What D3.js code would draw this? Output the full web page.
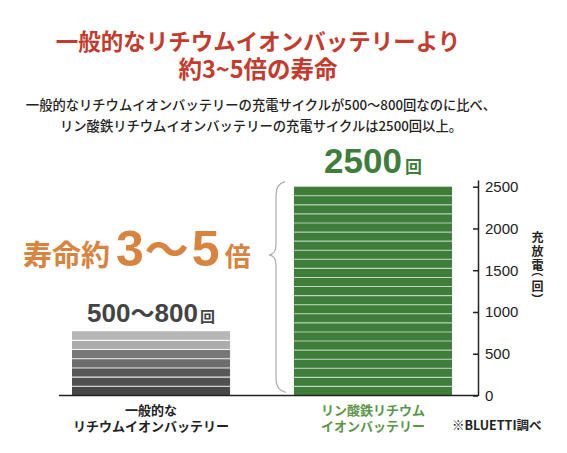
<!DOCTYPE html>
<html>
<head>
<meta charset="utf-8">
<script src="https://cdn.jsdelivr.net/npm/d3@7"></script>
<style>
  body { margin: 0; background: #fff; }
  svg { display: block; }
  text { font-family: "Noto Sans CJK JP", sans-serif; }
</style>
</head>
<body>
<svg id="chart" width="567" height="453"></svg>
<script>
// data
var categories = ["一般的なリチウムイオンバッテリー", "リン酸鉄リチウムイオンバッテリー"];
var catLines = [["一般的な", "リチウムイオンバッテリー"], ["リン酸鉄リチウム", "イオンバッテリー"]];
var cycles = [770, 2500];
var stripeCounts = [7, 23];
var barLabels = [["500", "～", "800"], ["2500"]];
var yTicks = [0, 500, 1000, 1500, 2000, 2500];
var yLabelChars = ["充", "放", "電", "（", "回", "）"];

var titleLines = ["一般的なリチウムイオンバッテリーより", "約3~5倍の寿命"];
var subLines = ["一般的なリチウムイオンバッテリーの充電サイクルが500～800回なのに比べ、",
                "リン酸鉄リチウムイオンバッテリーの充電サイクルは2500回以上。"];

var grayShades = ["#b6b6b6", "#acacac", "#777777", "#6d6d6d", "#575757", "#4f4f4f", "#474747"];
var green = "#3f7d3b", red = "#c43a2c", orange = "#d8843f", textGreen = "#5a9649";
var numFont = "'Liberation Sans', Arial, sans-serif";

var svg = d3.select("#chart");

var x = d3.scaleBand()
    .domain(categories)
    .range([72, 452])
    .paddingInner(0.288)
    .paddingOuter(0);

var y = d3.scaleLinear()
    .domain([0, 2580])
    .range([395.5, 180]);

// title
svg.selectAll(".title")
    .data(titleLines)
  .enter().append("text")
    .attr("class", "title")
    .attr("x", 258)
    .attr("y", (d, i) => 50 + i * 28)
    .attr("text-anchor", "middle")
    .style("font-size", (d, i) => i == 0 ? "22.5px" : "23.5px")
    .style("font-weight", 700)
    .style("fill", red)
    .text(d => d);

svg.selectAll(".sub")
    .data(subLines)
  .enter().append("text")
    .attr("class", "sub")
    .attr("x", 261)
    .attr("y", (d, i) => 110 + i * 21)
    .attr("text-anchor", "middle")
    .style("font-size", "13.3px")
    .style("font-weight", 500)
    .style("fill", "#222")
    .text(d => d);

// bars, built from stripes
categories.forEach((c, ci) => {
  var n = stripeCounts[ci], step = cycles[ci] / n;
  var segs = d3.range(n).map(k => ({lo: k * step, hi: (k + 1) * step, k: k}));
  var g = svg.append("g");
  g.selectAll("rect")
      .data(segs)
    .enter().append("rect")
      .attr("x", x(c))
      .attr("width", x.bandwidth())
      .attr("y", d => y(d.hi))
      .attr("height", d => y(d.lo) - y(d.hi))
      .style("fill", d => ci == 0 ? grayShades[n - 1 - d.k] : green);
  g.selectAll("line")
      .data(segs.slice(1))
    .enter().append("line")
      .attr("x1", x(c))
      .attr("x2", x(c) + x.bandwidth())
      .attr("y1", d => y(d.lo))
      .attr("y2", d => y(d.lo))
      .style("stroke", "#fff")
      .style("stroke-opacity", ci == 0 ? 0.85 : 0.6)
      .style("stroke-width", 1.1);
});

// value labels above bars
var lab0 = svg.append("text")
    .attr("x", x(categories[0]) + x.bandwidth() / 2)
    .attr("y", 322)
    .attr("text-anchor", "middle")
    .style("fill", "#444")
    .style("font-weight", 700);
lab0.append("tspan").style("font-family", numFont).style("font-size", "26px").text(barLabels[0][0]);
lab0.append("tspan").style("font-size", "24px").text(barLabels[0][1]);
lab0.append("tspan").style("font-family", numFont).style("font-size", "26px").text(barLabels[0][2]);
lab0.append("tspan").attr("dx", 2).style("font-size", "15px").text("回");

var lab1 = svg.append("text")
    .attr("x", x(categories[1]) + x.bandwidth() / 2)
    .attr("y", 173)
    .attr("text-anchor", "middle")
    .style("fill", green)
    .style("font-weight", 700);
lab1.append("tspan").style("font-family", numFont).style("font-size", "35px").text(barLabels[1][0]);
lab1.append("tspan").attr("dx", 3).style("font-size", "17px").text("回");

// big ratio label
var ratio = svg.append("text")
    .attr("x", 23)
    .attr("y", 266)
    .style("fill", orange)
    .style("font-weight", 700);
ratio.append("tspan").style("font-size", "29px").text("寿命約");
ratio.append("tspan").attr("dx", 6).style("font-family", numFont).style("font-size", "50px").text("3");
ratio.append("tspan").attr("dx", 1).style("font-size", "44px").text("～");
ratio.append("tspan").attr("dx", 3).style("font-family", numFont).style("font-size", "50px").text("5");
ratio.append("tspan").attr("dx", 5).style("font-size", "26px").text("倍");

// brace
var bTop = y(2500) - 5, bBot = y(0) - 3, bTip = 255, bx = 276;
var brace = d3.path();
brace.moveTo(bx + 9, bTop);
brace.quadraticCurveTo(bx, bTop + 2, bx, bTop + 14);
brace.lineTo(bx, bTip - 10);
brace.quadraticCurveTo(bx, bTip - 1, bx - 7, bTip);
brace.quadraticCurveTo(bx, bTip + 1, bx, bTip + 10);
brace.lineTo(bx, bBot - 14);
brace.quadraticCurveTo(bx, bBot - 2, bx + 10, bBot);
svg.append("path")
    .attr("d", brace.toString())
    .style("fill", "none")
    .style("stroke", "#a8a8a8")
    .style("stroke-width", 1.2);

// baseline
svg.append("line")
    .attr("x1", 59).attr("x2", 478)
    .attr("y1", y(0)).attr("y2", y(0))
    .style("stroke", "#222")
    .style("stroke-width", 1.5);

// y axis
var axis = svg.append("g")
    .attr("transform", "translate(478,0)")
    .call(d3.axisRight(y).tickValues(yTicks).tickFormat(d3.format("d")).tickSize(0).tickPadding(7));
axis.select(".domain").style("stroke", "#222").style("stroke-width", 1.5);
axis.selectAll(".tick line")
    .attr("x1", -5).attr("x2", 0)
    .style("stroke", "#222").style("stroke-width", 1.5);
axis.selectAll(".tick text")
    .style("font-family", numFont)
    .style("font-size", "15px")
    .style("fill", "#222");

// vertical axis title, stacked; brackets turned to sit vertically
var yCenter = [236, 250, 264, 271, 285, 299];
svg.append("g").selectAll("text")
    .data(yLabelChars)
  .enter().append("text")
    .attr("x", 537.5)
    .attr("y", (d, i) => yCenter[i])
    .attr("text-anchor", "middle")
    .attr("dominant-baseline", "central")
    .attr("transform", (d, i) => (i == 3 || i == 5) ? "rotate(90,537.5," + yCenter[i] + ")" : null)
    .style("font-size", "12px")
    .style("font-weight", 700)
    .style("fill", "#222")
    .text(d => d);

// category labels
categories.forEach((c, ci) => {
  svg.append("g").selectAll("text")
      .data(catLines[ci])
    .enter().append("text")
      .attr("x", x(c) + x.bandwidth() / 2)
      .attr("y", (d, i) => 415 + i * 16)
      .attr("text-anchor", "middle")
      .style("font-size", "13px")
      .style("font-weight", 700)
      .style("fill", ci == 0 ? "#222" : textGreen)
      .text(d => d);
});

svg.append("text")
    .attr("x", 452)
    .attr("y", 430)
    .style("font-size", "12.5px")
    .style("font-weight", 700)
    .style("fill", "#222")
    .text("※BLUETTI調べ");
</script>
</body>
</html>
